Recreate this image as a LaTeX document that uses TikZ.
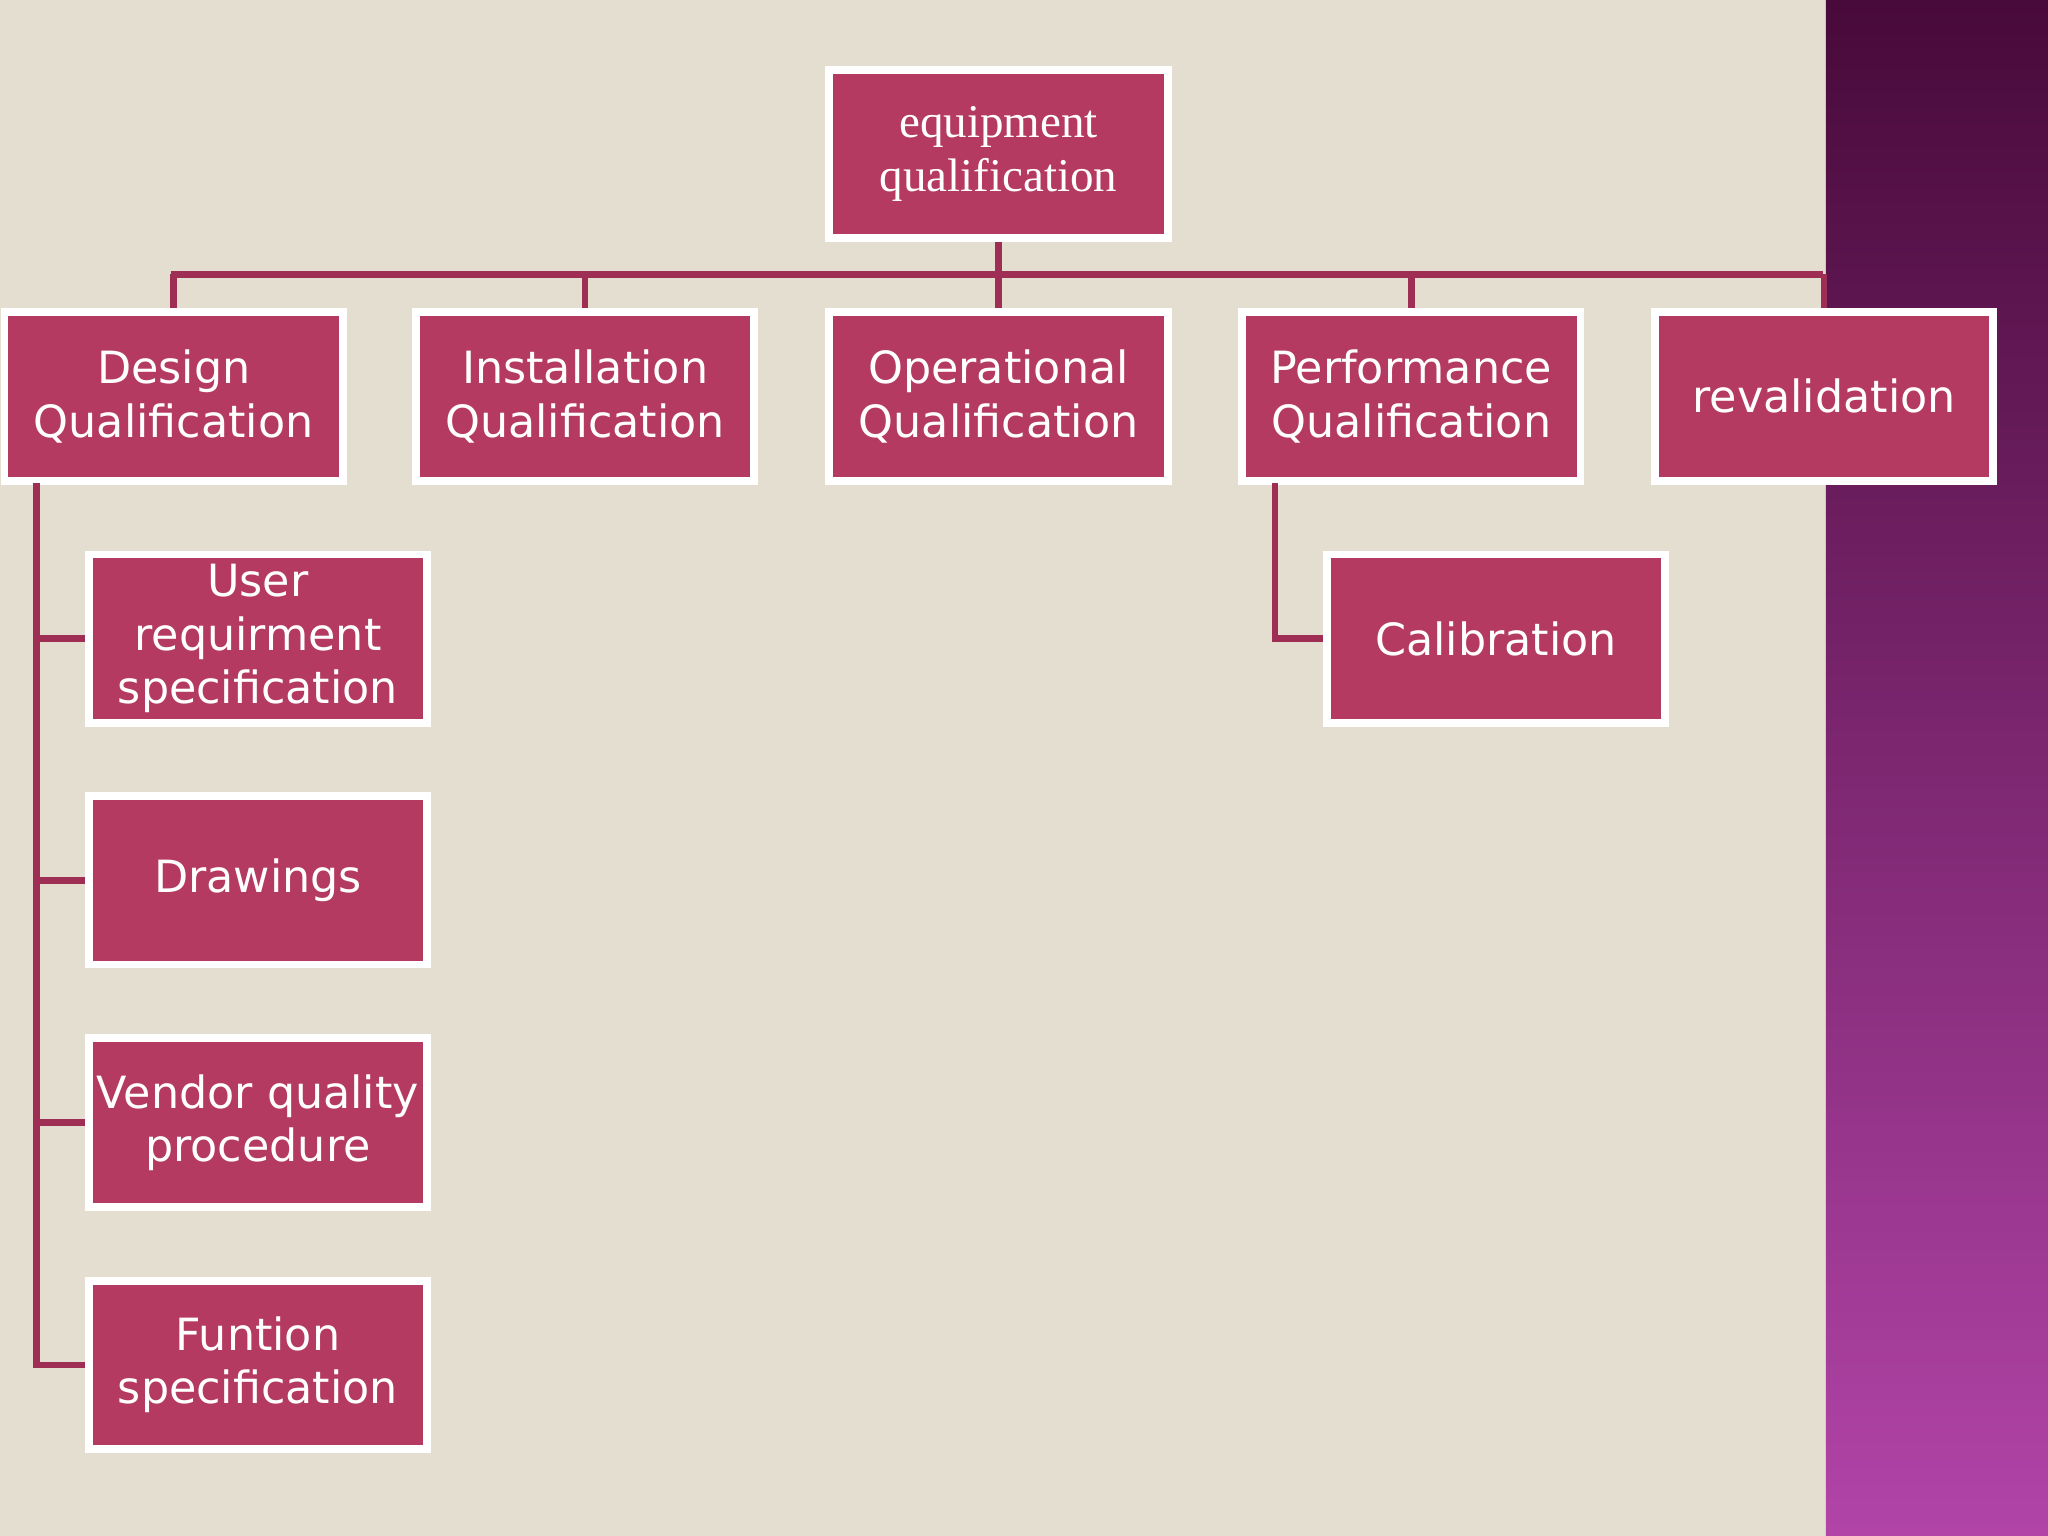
\documentclass[tikz,border=0pt]{standalone}
\usepackage{fontspec}
\setmainfont{DejaVu Sans}
\newfontfamily\serifx{Liberation Serif}
\begin{document}
\begin{tikzpicture}[x=0.5pt,y=-0.5pt,
  box/.style={draw=white,line width=3pt,fill=boxc,text=white,minimum width=129.5pt,minimum height=64.5pt,align=center,inner sep=0pt,font=\fontsize{17}{20.5}\selectfont},
  conn/.style={draw=linec,line width=2.5pt}]
\definecolor{boxc}{HTML}{B43A62}
\definecolor{linec}{HTML}{9E2E53}
\definecolor{bgc}{HTML}{E4DED0}
\useasboundingbox (0,0) rectangle (1568,1176);
\fill[bgc] (0,0) rectangle (1398,1176);
\shade[top color={rgb,255:red,72;green,10;blue,58},bottom color={rgb,255:red,178;green,68;blue,168}] (1398,0) rectangle (1568,1176);
\node[box,font=\serifx\fontsize{18}{20.5}\selectfont] (top) at (764.5,118) {equipment\\qualification};
\node[box] (dq) at (133,303.5) {Design\\Qualification};
\node[box] (iq) at (448,303.5) {Installation\\Qualification};
\node[box] (oq) at (764.5,303.5) {Operational\\Qualification};
\node[box] (pq) at (1080.5,303.5) {Performance\\Qualification};
\node[box] (rv) at (1396.5,303.5) {revalidation};
\node[box] (urs) at (197.5,489) {User\\requirment\\specification};
\node[box] (dr) at (197.5,674) {Drawings};
\node[box] (vq) at (197.5,859.5) {Vendor quality\\procedure};
\node[box] (fs) at (197.5,1045) {Funtion\\specification};
\node[box] (cal) at (1145.5,489) {Calibration};
\coordinate (bus) at (764.5,210);
\draw[conn] (top.south) -- (bus);
\draw[conn] (131,210) -- (1396,210);
\foreach \n in {dq,iq,oq,pq,rv} \draw[conn] (\n.north |- bus) -- (\n.north);
\foreach \n in {urs,dr,vq,fs} \draw[conn] (28,370) |- (\n.west);
\draw[conn] (976,370) |- (cal.west);
\end{tikzpicture}
\end{document}
